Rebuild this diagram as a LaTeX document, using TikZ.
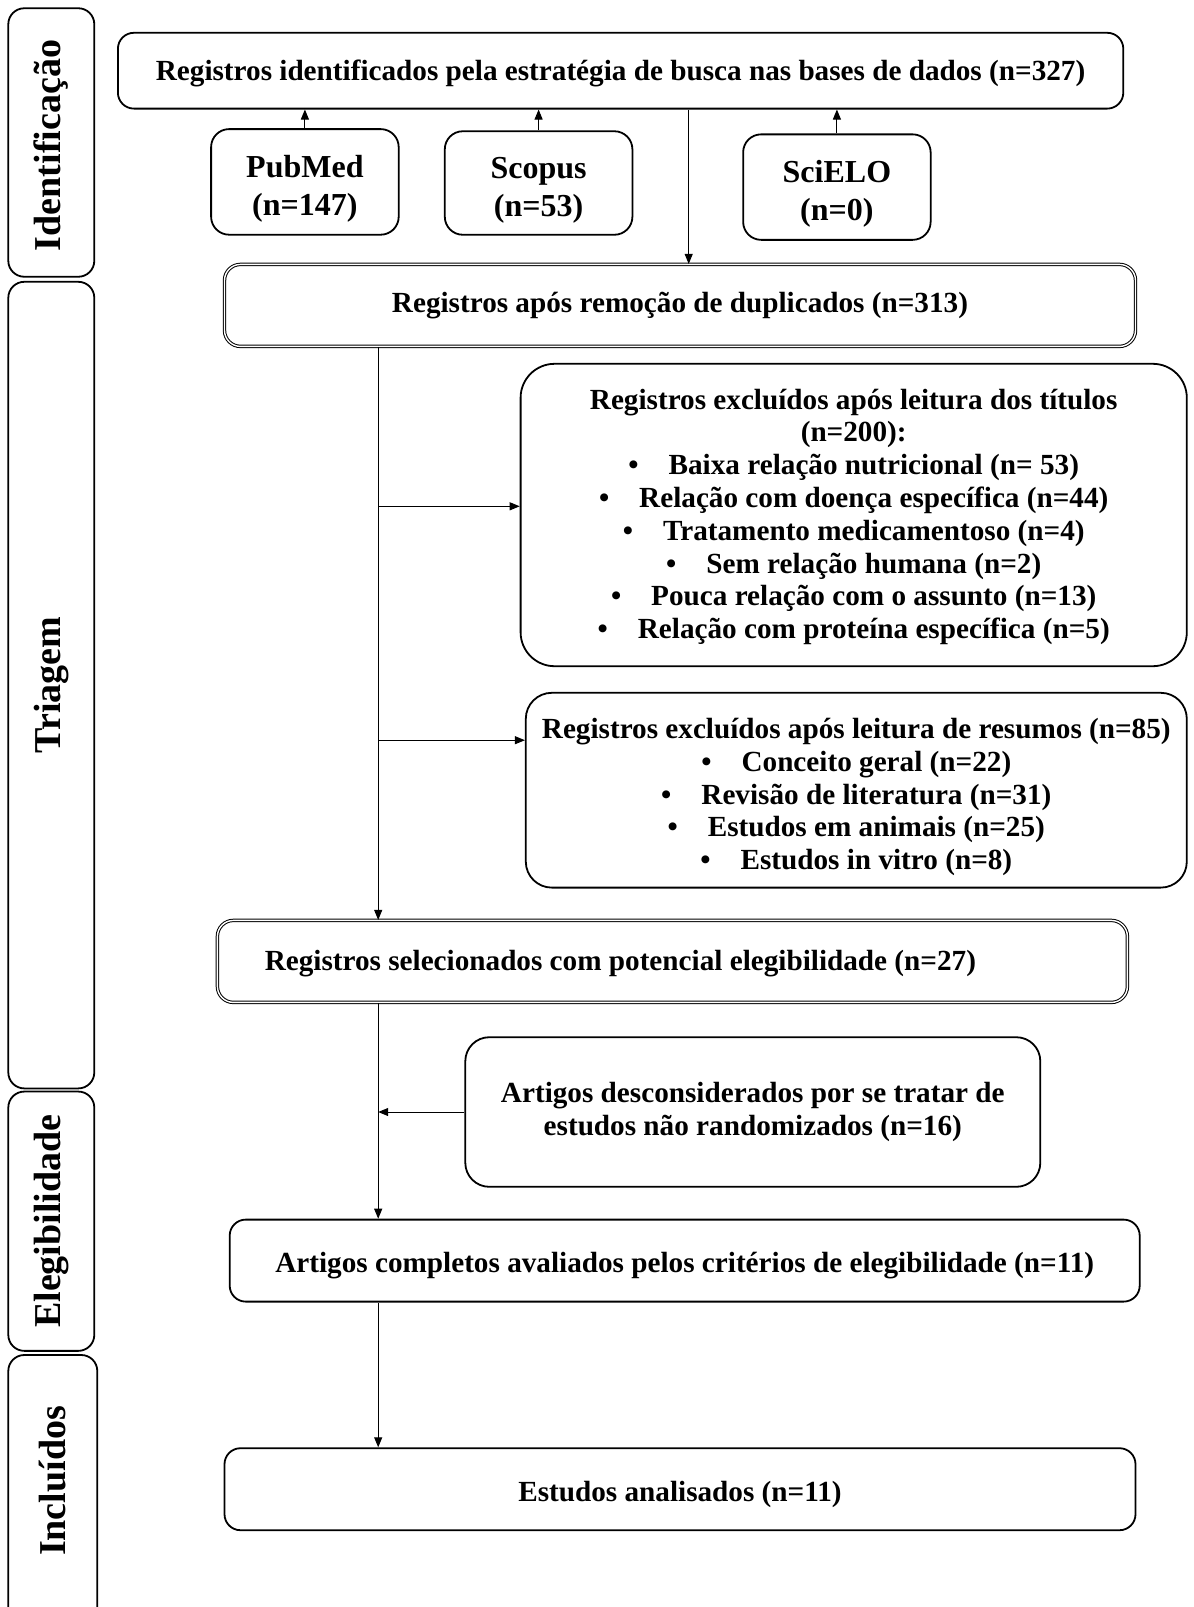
\documentclass[tikz,border=0pt]{standalone}
\usepackage{fontspec}
\setmainfont{Liberation Serif}
\usetikzlibrary{arrows.meta}
\tikzset{
  box/.style={draw, rounded corners=8pt, line width=0.9pt, align=center, inner sep=0pt,
    font=\bfseries\fontsize{14.6}{16.4}\selectfont},
  dbox/.style={box, double, double distance=0.7pt, line width=0.5pt},
  dbbox/.style={box, rounded corners=9pt, font=\bfseries\fontsize{16}{19}\selectfont},
  side/.style={draw, rounded corners=8pt, line width=0.9pt, inner sep=0pt, rotate=90,
    minimum height=43pt, font=\bfseries\fontsize{19}{22}\selectfont},
  arr/.style={-{Triangle[length=5pt,width=4pt]}, line width=0.5pt},
}
\newcommand{\bul}{\textbullet\hspace{15pt}}
\newcommand{\strt}[1]{\rule{0pt}{#1}}
\begin{document}
\begin{tikzpicture}[x=0.5pt,y=0.5pt]
\fill[white] (0,0) rectangle (1194,-1607);
\useasboundingbox (0,0) rectangle (1194,-1607);
\begin{scope}
\clip (0,0) rectangle (1194,-1607);
% side labels
\node[side, minimum width=134.25pt] (ident) at (51.3,-142.5) {\hspace*{-3pt}Identificação};
\node[side, minimum width=403.3pt] (tri) at (51.3,-685.1) {Triagem};
\node[side, minimum width=129.65pt] (eleg) at (51.3,-1221.2) {Elegibilidade};
\node[side, minimum width=147.5pt, minimum height=44.5pt] (incl) at (52.8,-1502.5) {\hspace*{21.5pt}Incluídos};
\end{scope}
% boxes
\node[box, minimum width=502.7pt, minimum height=37.9pt] (top) at (620.6,-70.7)
  {\strt{13pt}Registros identificados pela estratégia de busca nas bases de dados (n=327)};
\node[dbbox, minimum width=93.8pt, minimum height=52.8pt] (pub) at (304.9,-181.9) {\strt{17.5pt}PubMed\\(n=147)};
\node[dbbox, minimum width=93.8pt, minimum height=51.75pt] (sco) at (538.6,-183) {\strt{17.5pt}Scopus\\(n=53)};
\node[dbbox, minimum width=93.75pt, minimum height=52.75pt] (sci) at (836.9,-187.1) {\strt{17.5pt}SciELO\\(n=0)};
\node[dbox, minimum width=455.5pt, minimum height=41pt] (dup) at (680,-305.4)
  {Registros após remoção de duplicados (n=313)};
\node[box, rounded corners=17pt, minimum width=333.1pt, minimum height=151.2pt] (tit) at (853.7,-515)
  {\strt{12pt}Registros excluídos após leitura dos títulos\\(n=200):\\
   \bul Baixa relação nutricional (n= 53)\\
   \bul Relação com doença específica (n=44)\\
   \bul Tratamento medicamentoso (n=4)\\
   \bul Sem relação humana (n=2)\\
   \bul Pouca relação com o assunto (n=13)\\
   \bul Relação com proteína específica (n=5)};
\node[box, rounded corners=13pt, minimum width=330.5pt, minimum height=97.4pt] (res) at (856.3,-790.2)
  {\strt{17pt}Registros excluídos após leitura de resumos (n=85)\\
   \bul Conceito geral (n=22)\\
   \bul Revisão de literatura (n=31)\\
   \bul Estudos em animais (n=25)\\
   \bul Estudos in vitro (n=8)};
\node[dbox, minimum width=455pt, minimum height=41pt] (sel) at (672.4,-961.4)
  {\strt{12pt}\hspace*{-52pt}Registros selecionados com potencial elegibilidade (n=27)};
\node[box, rounded corners=12pt, minimum width=287.5pt, minimum height=74.8pt] (des) at (752.8,-1112)
  {Artigos desconsiderados por se tratar de\\estudos não randomizados (n=16)};
\node[box, minimum width=455pt, minimum height=41pt] (art) at (684.7,-1260.6)
  {\strt{15pt}Artigos completos avaliados pelos critérios de elegibilidade (n=11)};
\node[box, minimum width=455.5pt, minimum height=41pt] (est) at (680,-1489.2)
  {\strt{15.5pt}Estudos analisados (n=11)};
% connectors
\coordinate (sp) at (378.2,0);
\coordinate (dn) at (688.7,0);
\coordinate (t1) at ([yshift=4.35pt]tit.west);
\coordinate (r1) at ([yshift=25pt]res.west);
\draw[arr] (pub.north) -- (pub.north |- top.south);
\draw[arr] (sco.north) -- (sco.north |- top.south);
\draw[arr] (sci.north) -- (sci.north |- top.south);
\draw[arr] (top.south -| dn) -- (dup.north -| dn);
\draw[arr] (dup.south -| sp) -- (sel.north -| sp);
\draw[arr] (t1 -| sp) -- (t1);
\draw[arr] (r1 -| sp) -- (r1);
\draw[arr] (sel.south -| sp) -- (art.north -| sp);
\draw[arr] (des.west) -- (des.west -| sp);
\draw[arr] (art.south -| sp) -- (est.north -| sp);
\end{tikzpicture}
\end{document}
